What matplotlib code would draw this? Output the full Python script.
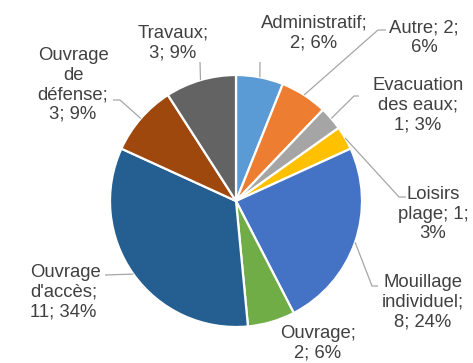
import numpy as np
import matplotlib
matplotlib.use("Agg")
import matplotlib.pyplot as plt

# Incident categories, counts and displayed percentages
categories = ["Administratif", "Autre", "Evacuation des eaux", "Loisirs plage",
              "Mouillage individuel", "Ouvrage", "Ouvrage d'accès",
              "Ouvrage de défense", "Travaux"]
counts = [2, 2, 1, 1, 8, 2, 11, 3, 3]
percents = ["6%", "6%", "3%", "3%", "24%", "6%", "34%", "9%", "9%"]
colors = ["#5B9BD5", "#ED7D31", "#A5A5A5", "#FFC000", "#4472C4",
          "#70AD47", "#255E91", "#9E480E", "#636363"]

# Label text as wrapped on the chart
label_texts = [
    "Administratif;\n2; 6%",
    "Autre; 2;\n6%",
    "Evacuation\ndes eaux;\n1; 3%",
    "Loisirs\nplage; 1;\n3%",
    "Mouillage\nindividuel;\n8; 24%",
    "Ouvrage;\n2; 6%",
    "Ouvrage\nd'accès;\n11; 34%",
    "Ouvrage\nde\ndéfense;\n3; 9%",
    "Travaux;\n3; 9%",
]

W, H = 473, 363
CX, CY, R = 236, 201, 126  # pie centre and radius in pixels


def px(x, y):
    """Pixel position (from top-left) to pie data coordinates."""
    return (x - CX) / R, (CY - y) / R


fig = plt.figure(figsize=(W / 100, H / 100), dpi=100)
ax = fig.add_axes([0, 0, 1, 1])

wedges, _ = ax.pie(counts, colors=colors, startangle=90, counterclock=False,
                   radius=1.0, center=(0, 0),
                   wedgeprops=dict(edgecolor="white", linewidth=1.6))
ax.set_xlim(-CX / R, (W - CX) / R)
ax.set_ylim(-(H - CY) / R, CY / R)
ax.set_aspect("equal")
ax.axis("off")

# Label placement: (text centre x, y, horizontal alignment, leader elbow points)
layout = [
    (314, 33, "center", [(260, 62)]),
    (424, 38, "center", [(386, 30), (378, 30)]),
    (418, 105, "center", [(359, 96), (354, 96)]),
    (433, 214, "center", [(406, 197), (399, 197)]),
    (423, 302, "center", [(378, 286), (372, 286)]),
    (318, 343, "center", []),
    (30, 292, "left", [(105, 275)]),
    (73, 85, "center", [(113, 100), (120, 100)]),
    (173, 43, "center", [(200, 62)]),
]

text_color = "#404040"
leader_color = "#A6A6A6"

for w, txt, (tx, ty, ha, elbow) in zip(wedges, label_texts, layout):
    x, y = px(tx, ty)
    ax.text(x, y, txt, ha=ha, va="center", fontsize=13.3,
            family="Liberation Sans", color=text_color, linespacing=1.2)
    if elbow:
        mid = np.deg2rad((w.theta1 + w.theta2) / 2)
        edge = (np.cos(mid), np.sin(mid))
        pts = [px(*p) for p in elbow] + [edge]
        ax.plot([p[0] for p in pts], [p[1] for p in pts],
                color=leader_color, linewidth=0.9, solid_capstyle="butt")

fig.savefig("out.png", dpi=100, facecolor="white")
